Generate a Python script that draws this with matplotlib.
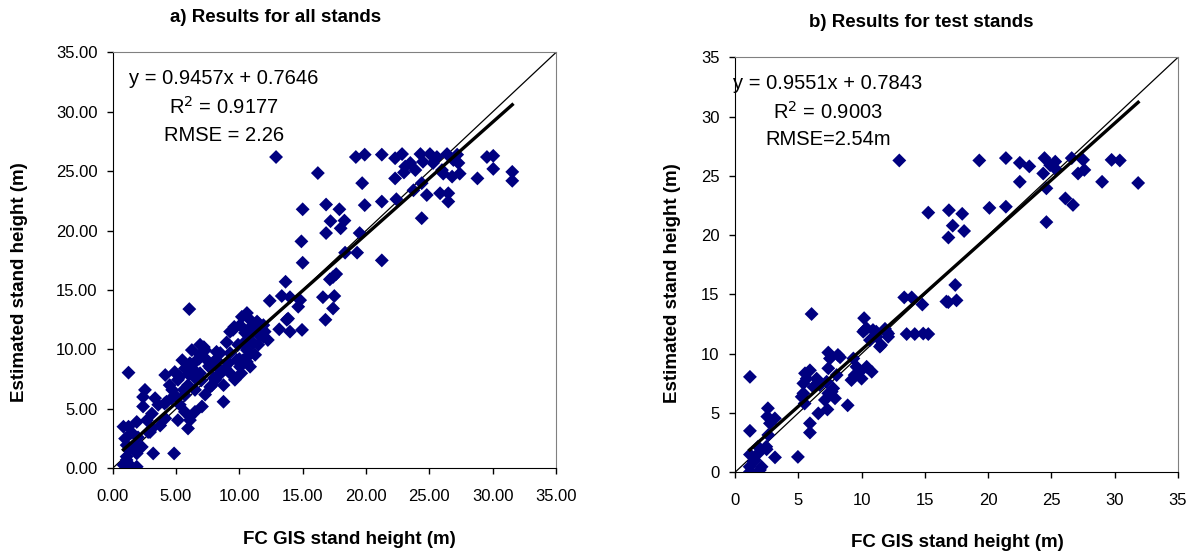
import matplotlib
matplotlib.use("Agg")
import matplotlib.pyplot as plt
import numpy as np
from matplotlib.ticker import FormatStrFormatter

plt.rcParams['font.family'] = ['Liberation Sans', 'DejaVu Sans']

# a) all stands  (FC GIS height, estimated height)
all_x = [12.9, 16.2, 15.0, 16.85, 17.9, 17.2, 18.3, 16.85, 18.0, 14.9, 15.0, 18.35, 19.3, 21.25,
         19.9, 21.25, 22.4, 19.5, 19.2, 19.9, 21.25, 22.3, 22.85, 23.1, 19.7, 22.3, 23.9, 24.3,
         25.05, 24.5, 25.3, 24.4, 23.75, 24.8, 25.85, 26.5, 26.5, 24.4, 26.4, 27.2, 26.0, 26.8,
         27.4, 27.3, 28.8, 29.55, 30.05, 30.05, 31.55, 31.55, 25.6, 26.9, 26.1, 23.5, 23.0,
         13.65, 17.15, 17.65, 17.4, 12.4, 13.35, 14.0, 14.8, 14.65, 16.6, 17.5, 17.4, 16.8, 13.75,
         13.15, 14.0, 14.95, 13.85, 6.05, 1.25,
         10.2, 10.85, 10.6, 11.4, 11.9, 10.05, 9.5, 10.45, 11.25, 11.9, 12.25, 11.5, 10.85, 9.9,
         9.27, 10.6, 9.27, 9.15, 10.15, 10.85, 11.25, 10.3, 8.75, 8.4, 7.85, 9.65, 10.7,
         10.3, 11.1, 11.4, 11.5, 8.5, 8.2, 8.75, 9.27, 10.05, 10.6, 9.8,
         7.3, 8.2, 6.9, 6.5, 5.7, 5.3, 6.1, 6.9, 7.7, 7.05, 6.1, 5.95, 6.1, 4.25, 5.05, 4.5, 5.15,
         5.95, 6.5, 7.3, 7.7, 8.1, 6.5, 5.7, 4.9, 5.5, 6.25, 6.9, 7.45, 8.5, 8.1, 4.15, 4.7, 4.1,
         4.65, 5.3, 5.7, 6.5, 5.15,
         6.0, 6.4, 7.0, 7.6, 8.0, 5.6, 6.8, 7.2, 9.0, 9.6, 10.9, 11.7, 12.0, 10.0, 8.9, 7.9,
         2.4, 2.4, 3.1, 1.25, 1.9, 2.7, 3.1, 2.95, 1.1, 1.75, 2.3, 3.2, 4.85, 1.1, 1.35, 1.9, 0.85,
         0.98, 1.25, 1.9, 1.1, 3.35, 3.6, 2.55, 3.75, 4.15, 2.8, 0.85, 2.0, 1.5]
all_y = [26.2, 24.85, 21.8, 22.2, 21.8, 20.8, 20.85, 19.8, 20.2, 19.1, 17.3, 18.15, 18.15, 17.5,
         22.15, 22.45, 22.65, 19.8, 26.2, 26.4, 26.4, 26.1, 26.45, 25.4, 24.0, 24.4, 25.1, 26.45,
         26.45, 25.8, 25.7, 24.0, 23.4, 23.0, 23.15, 23.15, 22.45, 21.05, 26.45, 26.4, 25.1, 24.55,
         24.8, 25.7, 24.4, 26.2, 26.3, 25.2, 24.95, 24.2, 26.2, 25.95, 24.8, 25.7, 24.9,
         15.7, 15.9, 16.35, 16.1, 14.1, 14.5, 14.4, 14.15, 13.6, 14.4, 14.5, 13.45, 12.5, 12.5,
         11.7, 11.5, 11.65, 12.6, 13.4, 8.05,
         12.75, 12.5, 13.07, 12.35, 12.05, 12.05, 11.65, 11.4, 11.65, 11.1, 10.8, 10.4, 10.8, 10.4,
         11.5, 9.95, 9.7, 8.85, 8.0, 8.55, 9.55, 9.1, 5.6, 7.85, 7.0, 7.45, 9.45,
         10.5, 10.5, 11.35, 12.2, 9.7, 9.1, 7.0, 8.0, 8.55, 8.95, 9.1,
         9.95, 9.8, 9.55, 8.95, 8.4, 7.7, 8.85, 8.0, 6.85, 5.2, 4.35, 3.35, 4.05, 5.6, 6.0, 7.0, 7.45,
         7.0, 6.6, 6.2, 8.45, 9.1, 7.6, 6.15, 8.1, 9.1, 9.95, 10.4, 9.1, 8.25, 7.45, 7.85, 6.6, 5.45,
         5.9, 5.35, 4.75, 4.75, 4.05,
         7.9, 8.3, 7.4, 8.6, 7.6, 6.6, 9.2, 10.2, 10.6, 11.9, 11.9, 11.2, 11.5, 9.2, 8.4, 8.8,
         6.0, 5.2, 4.6, 3.5, 3.9, 4.05, 3.35, 3.05, 1.95, 1.8, 1.8, 1.25, 1.25, 0.98, 0.28, 0.13, 0.28,
         2.5, 1.55, 1.25, 0.7, 5.9, 5.35, 6.6, 3.6, 4.2, 3.05, 3.5, 2.6, 3.0]

# b) test stands
test_x = [12.98, 15.27, 16.9, 17.95, 17.2, 18.1, 16.86, 19.3, 21.4, 22.5, 23.25, 22.5, 20.1, 21.4,
          24.45, 25.3, 24.35, 24.6, 24.6, 26.6, 27.5, 27.1, 27.6, 26.1, 26.7, 29.75, 30.4, 29.0,
          31.85, 24.9, 25.4, 17.4, 16.85, 17.5, 13.37, 13.96, 14.8, 13.56, 14.2, 14.87, 15.27,
          11.85, 12.1,
          6.05, 1.18, 1.18, 2.6, 2.55, 3.15, 2.76, 2.63, 2.5, 3.16, 4.97, 1.18, 1.45, 1.97, 1.18,
          1.84, 1.82, 2.47, 1.56, 1.16, 2.1,
          5.92, 5.92, 6.58, 7.3, 8.9, 5.4, 5.27, 5.5, 5.66, 5.53, 5.4, 5.92, 6.45, 6.19, 6.7, 7.24,
          7.37, 7.1, 7.64, 7.9, 7.37, 7.5, 7.37, 8.3, 8.03, 7.76, 8.13, 9.35, 9.2, 9.6, 9.87, 10.0,
          10.4, 10.8, 9.45, 10.2, 10.4, 10.13, 10.9, 10.66, 11.2, 11.45, 11.98, 12.1, 11.55, 10.24,
          11.16, 16.7]
test_y = [26.3, 21.9, 22.1, 21.8, 20.8, 20.35, 19.8, 26.3, 26.5, 26.1, 25.8, 24.5, 22.3, 22.4,
          26.5, 26.2, 25.2, 23.95, 21.1, 26.5, 26.35, 25.2, 25.5, 23.1, 22.55, 26.35, 26.3, 24.5,
          24.4, 25.9, 25.5, 15.8, 14.35, 14.5, 14.75, 14.75, 14.15, 11.66, 11.66, 11.7, 11.66,
          12.1, 11.7,
          13.35, 8.05, 3.5, 5.4, 4.7, 4.55, 4.13, 3.15, 1.94, 1.26, 1.3, 1.5, 0.9, 0.2, 0.05,
          1.6, 2.16, 2.16, 1.04, 0.47, 0.47,
          4.13, 3.35, 4.97, 5.3, 5.65, 6.66, 6.37, 5.8, 7.9, 8.35, 7.5, 8.6, 7.9, 7.2, 7.36, 7.64,
          6.66, 6.1, 6.8, 6.24, 10.1, 9.6, 8.77, 9.7, 8.2, 7.08, 9.9, 9.6, 7.78, 8.9, 8.48, 7.9,
          8.9, 8.48, 8.2, 13.0, 12.14, 11.86, 12.0, 11.15, 11.43, 10.6, 11.86, 11.43, 10.73, 12.0,
          11.86, 14.4]

all_fit = (0.9457, 0.7646)
test_fit = (0.9551, 0.7843)
all_txt = ["y = 0.9457x + 0.7646", "R$^2$ = 0.9177", "RMSE = 2.26"]
test_txt = ["y = 0.9551x + 0.7843", "R$^2$ = 0.9003", "RMSE=2.54m"]

fig = plt.figure(figsize=(12, 5.53), dpi=100)
ax1 = fig.add_axes([0.0939, 0.1532, 0.3694, 0.7519])
ax2 = fig.add_axes([0.6125, 0.1459, 0.3692, 0.7505])


def panel(ax, x, y, fit, lines, title, fmt, tx):
    x = np.array(x)
    y = np.array(y)
    ax.plot([0, 35], [0, 35], color='black', lw=0.9, zorder=2)
    ax.scatter(x, y, marker='D', s=50, color='#000080', edgecolors='none', zorder=3)
    xs = np.array([x.min(), x.max()])
    ax.plot(xs, fit[0] * xs + fit[1], color='black', lw=2.4, zorder=4)
    ax.set_xlim(0, 35)
    ax.set_ylim(0, 35)
    ax.set_xticks(np.arange(0, 36, 5))
    ax.set_yticks(np.arange(0, 36, 5))
    ax.xaxis.set_major_formatter(FormatStrFormatter(fmt))
    ax.yaxis.set_major_formatter(FormatStrFormatter(fmt))
    ax.tick_params(direction='out', length=4, width=1, labelsize=12)
    ax.tick_params(axis='x', pad=11)
    ax.tick_params(axis='y', pad=7)
    for s in ['left', 'bottom']:
        ax.spines[s].set_color('black')
    for s in ['top', 'right']:
        ax.spines[s].set_color('#808080')
    ax.set_xlabel("FC GIS stand height (m)", fontsize=13.5, fontweight='bold')
    ax.set_ylabel("Estimated stand height (m)", fontsize=13.5, fontweight='bold')
    ax.text(tx[0], 1.083, title, transform=ax.transAxes, ha='center', va='center',
            fontsize=13.5, fontweight='bold')
    for t, yy in zip(lines, [0.938, 0.869, 0.801]):
        ax.text(tx[1], yy, t, transform=ax.transAxes, ha='center', va='center', fontsize=14.5)


panel(ax1, all_x, all_y, all_fit, all_txt, "a) Results for all stands", '%.2f', (0.368, 0.251))
panel(ax2, test_x, test_y, test_fit, test_txt, "b) Results for test stands", '%d', (0.42, 0.21))

ax1.xaxis.set_label_coords(0.533, -0.151)
ax1.yaxis.set_label_coords(-0.192, 0.448)
ax2.xaxis.set_label_coords(0.501, -0.149)
ax2.yaxis.set_label_coords(-0.121, 0.456)

fig.savefig("out.png", dpi=100, facecolor='white')
